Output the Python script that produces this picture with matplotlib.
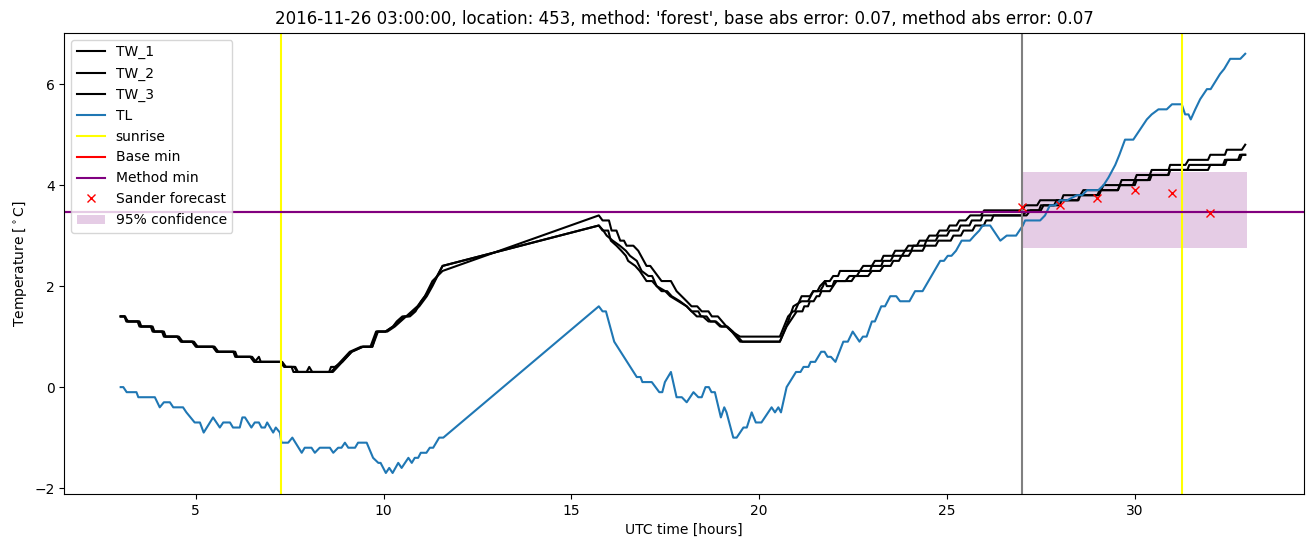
import numpy as np
import matplotlib
matplotlib.use('Agg')
import matplotlib.pyplot as plt

# (hour, temperature) vertices
tw_1 = [(3.0,1.4),(3.1,1.4),(3.15,1.3),(3.45,1.3),(3.5,1.2),(3.8,1.2),(3.85,1.1),(4.1,1.1),(4.15,1.0),
        (4.5,1.0),(4.6,0.9),(4.9,0.9),(5.0,0.8),(5.45,0.8),(5.55,0.7),(6.0,0.7),(6.05,0.6),(6.45,0.6),
        (6.55,0.5),(7.25,0.5),(7.35,0.4),(7.55,0.4),(7.6,0.3),(8.6,0.3),(8.85,0.5),(9.1,0.7),(9.4,0.8),
        (9.65,0.8),(9.8,1.1),(10.05,1.1),(10.25,1.2),(10.35,1.3),(10.5,1.4),(10.6,1.4),(10.75,1.5),
        (10.9,1.6),(11.1,1.8),(11.3,2.1),(11.57,2.3),(15.73,3.4),(15.83,3.3),(16.0,3.3),(16.07,3.1),
        (16.2,3.1),(16.3,2.9),(16.4,2.9),(16.47,2.8),(16.65,2.8),(16.78,2.7),(17.0,2.4),(17.1,2.4),
        (17.2,2.3),(17.4,2.1),(17.65,2.1),(17.8,1.9),(18.07,1.7),(18.2,1.6),(18.35,1.6),(18.47,1.5),
        (18.65,1.5),(18.74,1.4),(18.9,1.4),(19.13,1.2),(19.27,1.1),(19.49,1.0),(20.55,1.0),(20.77,1.4),
        (20.9,1.5),(20.95,1.5),(21.13,1.8),(21.35,1.8),(21.44,1.9),(21.55,1.9),(21.62,2.0),(21.75,2.1),
        (21.88,2.1),(21.97,2.2),(22.1,2.2),(22.15,2.3),(22.68,2.3),(22.77,2.4),(23.0,2.4),(23.08,2.5),
        (23.25,2.5),(23.31,2.6),(23.55,2.6),(23.62,2.7),(23.88,2.7),(23.97,2.8),(24.2,2.8),(24.27,2.9),
        (24.45,2.9),(24.53,3.0),(24.72,3.0),(24.8,3.1),(25.0,3.1),(25.07,3.2),(25.25,3.2),(25.33,3.3),
        (25.5,3.3),(25.62,3.4),(25.9,3.4),(25.99,3.5),(27.0,3.5),(27.08,3.6),(27.4,3.6),(27.48,3.7),
        (28.05,3.7),(28.1,3.8),(28.55,3.8),(28.63,3.9),(29.1,3.9),(29.17,4.0),(29.6,4.0),(29.65,4.1),
        (30.0,4.1),(30.05,4.2),(30.4,4.2),(30.45,4.3),(30.9,4.3),(30.94,4.4),(31.35,4.4),(31.43,4.5),
        (31.95,4.5),(32.01,4.6),(32.4,4.6),(32.45,4.7),(32.85,4.7),(32.94,4.8)]

tw_2 = [(3.0,1.4),(3.12,1.4),(3.17,1.3),(3.48,1.3),(3.53,1.2),(3.82,1.2),(3.88,1.1),(4.12,1.1),(4.18,1.0),
        (4.52,1.0),(4.62,0.9),(4.92,0.9),(5.02,0.8),(5.48,0.8),(5.57,0.7),(6.02,0.7),(6.08,0.6),(6.47,0.6),
        (6.57,0.5),(6.68,0.6),(6.73,0.5),(7.28,0.5),(7.38,0.4),(7.62,0.4),(7.7,0.3),(7.95,0.3),(8.02,0.4),
        (8.1,0.3),(8.65,0.3),(8.9,0.5),(9.15,0.7),(9.45,0.8),(9.7,0.8),(9.85,1.1),(10.1,1.1),(10.3,1.2),
        (10.45,1.3),(10.6,1.4),(10.7,1.4),(10.85,1.5),(11.0,1.7),(11.2,1.9),(11.35,2.1),(11.57,2.4),
        (15.73,3.2),(15.85,3.1),(15.94,3.0),(16.1,2.9),(16.29,2.8),(16.45,2.7),(16.56,2.6),(16.74,2.5),
        (16.87,2.3),(17.05,2.2),(17.15,2.2),(17.27,2.0),(17.4,1.9),(17.55,1.9),(17.67,1.8),(17.89,1.7),
        (18.07,1.6),(18.2,1.5),(18.34,1.4),(18.5,1.4),(18.65,1.3),(18.82,1.3),(18.96,1.2),(19.13,1.2),
        (19.27,1.1),(19.49,0.9),(20.55,0.9),(20.73,1.2),(21.0,1.5),(21.15,1.5),(21.2,1.6),(21.3,1.6),
        (21.35,1.7),(21.45,1.7),(21.53,1.8),(21.6,1.8),(21.66,1.9),(21.88,1.9),(21.97,2.0),(22.06,2.1),
        (22.46,2.1),(22.55,2.2),(22.9,2.2),(23.0,2.3),(23.22,2.3),(23.31,2.4),(23.5,2.4),(23.57,2.5),
        (23.72,2.5),(23.79,2.6),(23.98,2.6),(24.06,2.7),(24.35,2.7),(24.42,2.8),(24.7,2.8),(24.77,2.9),
        (25.1,2.9),(25.17,3.0),(25.37,3.0),(25.44,3.1),(25.68,3.1),(25.75,3.2),(25.98,3.2),(26.04,3.3),
        (26.18,3.3),(26.24,3.4),(27.12,3.4),(27.22,3.5),(27.5,3.5),(27.57,3.6),(27.85,3.6),(27.92,3.7),
        (28.48,3.7),(28.54,3.8),(29.0,3.8),(29.07,3.9),(29.55,3.9),(29.61,4.0),(29.95,4.0),(30.0,4.1),
        (30.35,4.1),(30.41,4.2),(30.88,4.2),(30.94,4.3),(31.95,4.3),(32.01,4.4),(32.4,4.4),(32.45,4.5),
        (32.75,4.5),(32.8,4.6),(32.94,4.6)]

tw_3 = [(3.0,1.4),(3.1,1.4),(3.2,1.3),(3.5,1.3),(3.55,1.2),(3.85,1.2),(3.9,1.1),(4.15,1.1),(4.2,1.0),
        (4.55,1.0),(4.65,0.9),(4.95,0.9),(5.05,0.8),(5.5,0.8),(5.6,0.7),(6.05,0.7),(6.1,0.6),(6.5,0.6),
        (6.6,0.5),(7.3,0.5),(7.4,0.4),(7.65,0.4),(7.72,0.3),(8.55,0.3),(8.6,0.4),(8.7,0.4),(8.9,0.5),
        (9.15,0.7),(9.45,0.8),(9.7,0.8),(9.82,1.1),(10.05,1.1),(10.25,1.2),(10.4,1.3),(10.55,1.4),
        (10.65,1.4),(10.8,1.5),(10.95,1.6),(11.15,1.8),(11.3,2.0),(11.57,2.4),(15.73,3.2),(15.83,3.1),
        (15.98,3.1),(16.05,2.9),(16.2,2.8),(16.33,2.7),(16.45,2.6),(16.51,2.5),(16.7,2.4),(16.82,2.3),
        (17.0,2.1),(17.15,2.1),(17.27,2.0),(17.5,1.9),(17.63,1.8),(17.85,1.7),(18.07,1.6),(18.2,1.5),
        (18.38,1.5),(18.45,1.4),(18.6,1.4),(18.7,1.3),(18.85,1.3),(19.0,1.2),(19.15,1.2),(19.3,1.1),
        (19.55,0.9),(20.55,0.9),(20.77,1.3),(20.91,1.6),(21.13,1.7),(21.3,1.7),(21.44,1.9),(21.62,1.9),
        (21.7,2.0),(21.75,2.1),(21.8,2.0),(21.95,2.0),(22.0,2.1),(22.3,2.1),(22.4,2.2),(22.6,2.2),
        (22.68,2.3),(22.95,2.3),(23.0,2.4),(23.25,2.4),(23.3,2.5),(23.5,2.5),(23.57,2.6),(23.8,2.6),
        (23.88,2.7),(24.05,2.7),(24.1,2.8),(24.4,2.8),(24.45,2.9),(24.7,2.9),(24.77,3.0),(25.0,3.0),
        (25.07,3.1),(25.3,3.1),(25.36,3.2),(25.6,3.2),(25.66,3.3),(25.9,3.3),(25.95,3.4),(27.0,3.4),
        (27.15,3.5),(27.45,3.5),(27.5,3.6),(28.0,3.6),(28.05,3.7),(28.5,3.7),(28.55,3.8),(29.05,3.8),
        (29.1,3.9),(29.55,3.9),(29.6,4.0),(30.0,4.0),(30.05,4.1),(30.4,4.1),(30.45,4.2),(30.9,4.2),
        (30.94,4.3),(31.4,4.3),(31.45,4.4),(32.35,4.4),(32.4,4.5),(32.8,4.5),(32.85,4.6),(32.94,4.6)]

tl = [(3.0,0.0),(3.07,0.0),(3.16,-0.1),(3.42,-0.1),(3.47,-0.2),(3.91,-0.2),(4.04,-0.4),(4.15,-0.3),
      (4.31,-0.3),(4.40,-0.4),(4.66,-0.4),(4.75,-0.5),(4.97,-0.7),(5.11,-0.7),(5.21,-0.9),(5.46,-0.6),
      (5.64,-0.8),(5.73,-0.7),(5.91,-0.7),(5.99,-0.8),(6.17,-0.8),(6.24,-0.6),(6.31,-0.6),(6.48,-0.8),
      (6.57,-0.7),(6.68,-0.7),(6.75,-0.8),(6.84,-0.8),(6.90,-0.7),(7.06,-0.9),(7.13,-0.8),(7.24,-0.9),
      (7.28,-1.1),(7.46,-1.1),(7.57,-1.0),(7.82,-1.3),(7.90,-1.2),(8.08,-1.2),(8.17,-1.3),(8.30,-1.2),
      (8.57,-1.2),(8.66,-1.3),(8.79,-1.2),(8.88,-1.2),(8.97,-1.1),(9.06,-1.2),(9.24,-1.2),(9.32,-1.1),
      (9.55,-1.1),(9.72,-1.4),(9.86,-1.5),(9.92,-1.5),(10.06,-1.7),(10.15,-1.6),(10.24,-1.7),(10.39,-1.5),
      (10.48,-1.6),(10.66,-1.4),(10.75,-1.5),(10.83,-1.4),(10.92,-1.4),(10.99,-1.3),(11.14,-1.3),
      (11.23,-1.2),(11.32,-1.2),(11.48,-1.0),(11.59,-1.0),(15.73,1.6),(15.83,1.5),(15.92,1.5),(16.14,0.9),
      (16.74,0.2),(16.84,0.2),(16.89,0.1),(17.14,0.1),(17.34,-0.1),(17.42,-0.1),(17.49,0.1),(17.65,0.3),
      (17.80,-0.2),(17.94,-0.2),(18.07,-0.3),(18.25,-0.1),(18.38,-0.2),(18.47,-0.2),(18.57,0.0),
      (18.66,0.0),(18.73,-0.1),(18.82,-0.1),(18.98,-0.6),(19.07,-0.4),(19.13,-0.5),(19.31,-1.0),
      (19.40,-1.0),(19.58,-0.8),(19.67,-0.8),(19.80,-0.5),(19.91,-0.7),(20.06,-0.7),(20.33,-0.4),
      (20.42,-0.5),(20.51,-0.4),(20.58,-0.5),(20.73,0.0),(20.98,0.3),(21.10,0.3),(21.18,0.4),(21.31,0.4),
      (21.37,0.5),(21.49,0.5),(21.57,0.6),(21.65,0.7),(21.74,0.7),(21.82,0.6),(21.91,0.6),(22.03,0.5),
      (22.24,0.9),(22.36,0.9),(22.49,1.1),(22.67,0.9),(22.76,1.0),(22.86,1.0),(23.00,1.3),(23.08,1.3),
      (23.25,1.6),(23.35,1.6),(23.49,1.8),(23.65,1.8),(23.75,1.7),(24.00,1.7),(24.15,1.9),(24.35,1.9),
      (24.82,2.5),(24.92,2.5),(25.02,2.6),(25.12,2.6),(25.24,2.7),(25.39,2.9),(25.61,2.9),(25.73,3.0),
      (25.86,3.1),(25.95,3.2),(26.15,3.2),(26.42,2.9),(26.59,3.0),(26.84,3.0),(27.02,3.2),(27.08,3.3),
      (27.48,3.3),(27.61,3.4),(27.74,3.6),(27.88,3.6),(28.01,3.7),(28.2,3.7),(28.46,3.8),(28.6,3.8),
      (28.73,3.9),(29.03,3.9),(29.17,4.0),(29.30,4.15),(29.48,4.4),(29.59,4.6),(29.74,4.9),(29.96,4.9),
      (30.14,5.1),(30.32,5.3),(30.45,5.4),(30.63,5.5),(30.85,5.5),(30.99,5.6),(31.25,5.6),(31.34,5.4),
      (31.43,5.4),(31.49,5.3),(31.61,5.5),(31.74,5.7),(31.92,5.9),(32.02,5.9),(32.27,6.2),(32.38,6.3),
      (32.54,6.5),(32.81,6.5),(32.94,6.6)]

sunrise = [7.27, 31.27]
forecast_time = 27.0
base_min = 3.47
method_min = 3.47
sander_hours = [27, 28, 29, 30, 31, 32]
sander_values = [3.57, 3.6, 3.75, 3.91, 3.85, 3.45]
conf_hours = [27, 33]
conf_low = 2.75
conf_high = 4.26

title = ("2016-11-26 03:00:00, location: 453, method: 'forest', "
         "base abs error: 0.07, method abs error: 0.07")

fig, ax = plt.subplots(figsize=(13.13, 5.47), dpi=100)
fig.subplots_adjust(left=0.049, right=0.993, top=0.94, bottom=0.097)

for name, series in [('TW_1', tw_1), ('TW_2', tw_2), ('TW_3', tw_3)]:
    arr = np.array(series)
    ax.plot(arr[:, 0], arr[:, 1], color='black', label=name)
arr = np.array(tl)
ax.plot(arr[:, 0], arr[:, 1], color='C0', label='TL')

for i, s in enumerate(sunrise):
    ax.axvline(s, color='yellow', label='sunrise' if i == 0 else None)
ax.axvline(forecast_time, color='gray')
ax.axhline(base_min, color='red', label='Base min')
ax.axhline(method_min, color='purple', label='Method min')
ax.plot(sander_hours, sander_values, 'x', color='red', label='Sander forecast')
ax.fill_between(conf_hours, conf_low, conf_high, color='purple', alpha=0.2,
                linewidth=0, label='95% confidence')

ax.set_title(title)
ax.set_xlabel('UTC time [hours]')
ax.set_ylabel(r'Temperature [$^\circ$C]')
ax.legend(loc='upper left')

fig.savefig('out.png')
